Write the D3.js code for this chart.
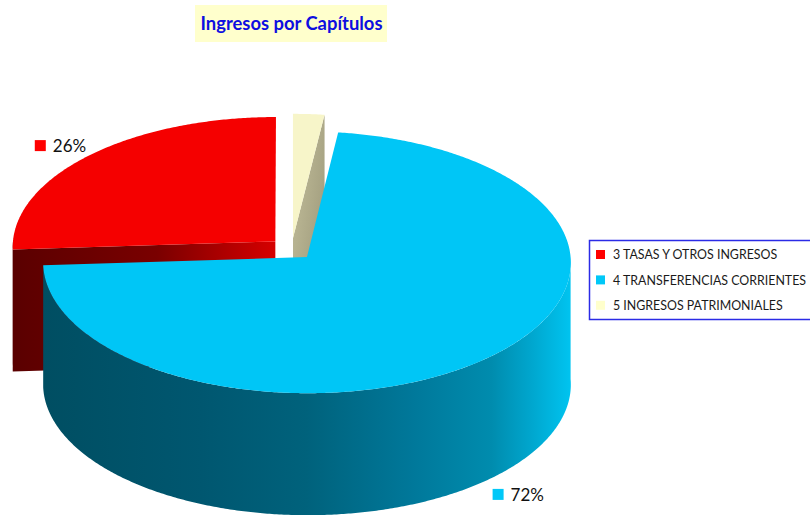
<!DOCTYPE html>
<html><head><meta charset="utf-8">
<script src="https://cdn.jsdelivr.net/npm/d3@7"></script>
<style>body{margin:0;background:#fff;overflow:hidden} svg{display:block}</style>
</head><body>
<svg id="c" width="810" height="515"></svg>
<script>
// ---- data ----
const categories = ["3 TASAS Y OTROS INGRESOS", "4 TRANSFERENCIAS CORRIENTES", "5 INGRESOS PATRIMONIALES"];
const values = [26, 72, 2];
const pctLabels = ["26%", "72%", null];
const title = "Ingresos por Capítulos";

// ---- styles ----
const topColors = ["#F50000", "#00C6F6", "#F7F5C9"];
const legendColors = ["#FF0000", "#00C8F8", "#FFFFCC"];
const radialGrad = [
  [["0", "#5a0000"], ["0.55", "#7a0000"], ["1", "#d60000"]],
  null,
  [["0", "#c4c09c"], ["0.6", "#a8a484"], ["1", "#8c8a72"]]
];
const sideGrad = [
  [["0", "#5a0000"], ["1", "#7a0000"]],
  [["0", "#004e62"], ["0.3", "#005770"], ["0.5", "#00627c"], ["0.7", "#00789a"], ["0.85", "#008cae"], ["0.93", "#00a8d0"], ["1", "#00c4f0"]],
  [["0", "#a8a484"], ["1", "#8c8a72"]]
];

const svg = d3.select("#c");
const defs = svg.append("defs");
function grad(id, stops, x2, y2) {
  const g = defs.append("linearGradient").attr("id", id)
    .attr("x1", 0).attr("y1", 0).attr("x2", x2).attr("y2", y2);
  stops.forEach(s => g.append("stop").attr("offset", s[0]).attr("stop-color", s[1]));
}

// ---- projection ----
const cx = 291.6, cy = 249, rx = 263, ry = 130, H = 122, D = 25, explode = 0.085;
const xScale = d3.scaleLinear().domain([-1, 1]).range([cx - rx, cx + rx]);
const zScale = d3.scaleLinear().domain([-1, 1]).range([cy - ry, cy + ry]);
const hScale = d3.scaleLinear().domain([0, 1]).range([H, 0]);
function proj(x, z, up) {
  const s = D / (D - z);
  return [cx + (xScale(x) - cx) * s, cy + (zScale(z) - cy) * s + hScale(up)];
}

const pie = d3.pie().sort(null).startAngle(0).endAngle(-2 * Math.PI);
const arcs = pie(values);
const line = d3.line();

function arcPts(a0, a1, ox, oz, up) {
  const n = Math.max(2, Math.ceil(Math.abs(a1 - a0) / (Math.PI / 360)));
  const pts = [];
  for (let i = 0; i <= n; i++) {
    const t = a0 + (a1 - a0) * i / n;
    pts.push(proj(ox + Math.sin(t), oz - Math.cos(t), up));
  }
  return pts;
}

const slices = arcs.map((a, i) => {
  const m = (a.startAngle + a.endAngle) / 2;
  return { i, a, m, ox: explode * Math.sin(m), oz: -explode * Math.cos(m) };
}).sort((p, q) => (-Math.cos(p.m)) - (-Math.cos(q.m)));

const g = svg.append("g");
slices.forEach(sl => {
  const { i, a, ox, oz } = sl;
  const a0 = a.startAngle, a1 = a.endAngle;
  const sg = Math.sign(a1 - a0);
  const lo = Math.min(a0, a1), hi = Math.max(a0, a1);
  const ranges = [];
  for (let k = -2; k <= 1; k++) {
    const v0 = Math.PI / 2 + 2 * Math.PI * k, v1 = 3 * Math.PI / 2 + 2 * Math.PI * k;
    const s0 = Math.max(lo, v0), s1 = Math.min(hi, v1);
    if (s1 > s0) ranges.push([s0, s1]);
  }
  ranges.forEach((r, j) => {
    const topP = arcPts(r[0], r[1], ox, oz, 1);
    const botP = arcPts(r[1], r[0], ox, oz, 0);
    const id = "side" + i + "_" + j;
    grad(id, sideGrad[i], 1, 0);
    g.append("path").attr("d", line(topP.concat(botP)) + "Z").attr("fill", `url(#${id})`);
  });
  [[a0, -sg], [a1, sg]].forEach(([phi, sgn], j) => {
    const nz = sgn * Math.sin(phi);
    if (nz > 0.01 && radialGrad[i]) {
      const c1 = proj(ox, oz, 1), c0 = proj(ox, oz, 0);
      const p1 = proj(ox + Math.sin(phi), oz - Math.cos(phi), 1);
      const p0 = proj(ox + Math.sin(phi), oz - Math.cos(phi), 0);
      const id = "rad" + i + "_" + j;
      grad(id, radialGrad[i], 1, i === 2 ? 1 : 0);
      g.append("path").attr("d", line([c1, p1, p0, c0]) + "Z").attr("fill", `url(#${id})`);
    }
  });
  const topPts = [proj(ox, oz, 1)].concat(arcPts(a0, a1, ox, oz, 1));
  g.append("path").attr("d", line(topPts) + "Z").attr("fill", topColors[i]);
});

// ---- data labels ----
const FONT = "Lato, 'Open Sans', sans-serif";
const lr = 1.23;
arcs.forEach((a, i) => {
  if (!pctLabels[i]) return;
  const m = (a.startAngle + a.endAngle) / 2;
  const z = -Math.cos(m);
  const p = proj(Math.sin(m) * lr, z * lr, z > 0 ? 0 : 1);
  const lg = svg.append("g");
  const t = lg.append("text").attr("x", 18).attr("y", 6).attr("font-family", FONT)
    .attr("font-size", 17).attr("fill", "#111").text(pctLabels[i]);
  const w = 18 + t.node().getComputedTextLength();
  lg.append("rect").attr("x", 0).attr("y", -6).attr("width", 11).attr("height", 11).attr("fill", legendColors[i]);
  lg.attr("transform", `translate(${p[0] - w / 2 - 3},${p[1] + 3})`);
});

// ---- title ----
svg.append("rect").attr("x", 195).attr("y", 5).attr("width", 192).attr("height", 37).attr("fill", "#FFFFCC");
svg.append("text").attr("x", 291.5).attr("y", 30).attr("text-anchor", "middle")
  .attr("font-family", FONT).attr("font-weight", "bold").attr("font-size", 18.4)
  .attr("fill", "#0E0EE0").text(title);

// ---- legend ----
const leg = svg.append("g");
leg.append("rect").attr("x", 589.5).attr("y", 240.5).attr("width", 240).attr("height", 79)
  .attr("fill", "#fff").attr("stroke", "#2B2BE6").attr("stroke-width", 1.5);
categories.forEach((c, i) => {
  const y = 250 + i * 25.4;
  leg.append("rect").attr("x", 596).attr("y", y).attr("width", 9).attr("height", 9).attr("fill", legendColors[i]);
  leg.append("text").attr("x", 613).attr("y", y + 9.4).attr("font-family", FONT)
    .attr("font-size", 12.4).attr("fill", "#1a1a1a").text(c);
});
</script>
</body></html>
